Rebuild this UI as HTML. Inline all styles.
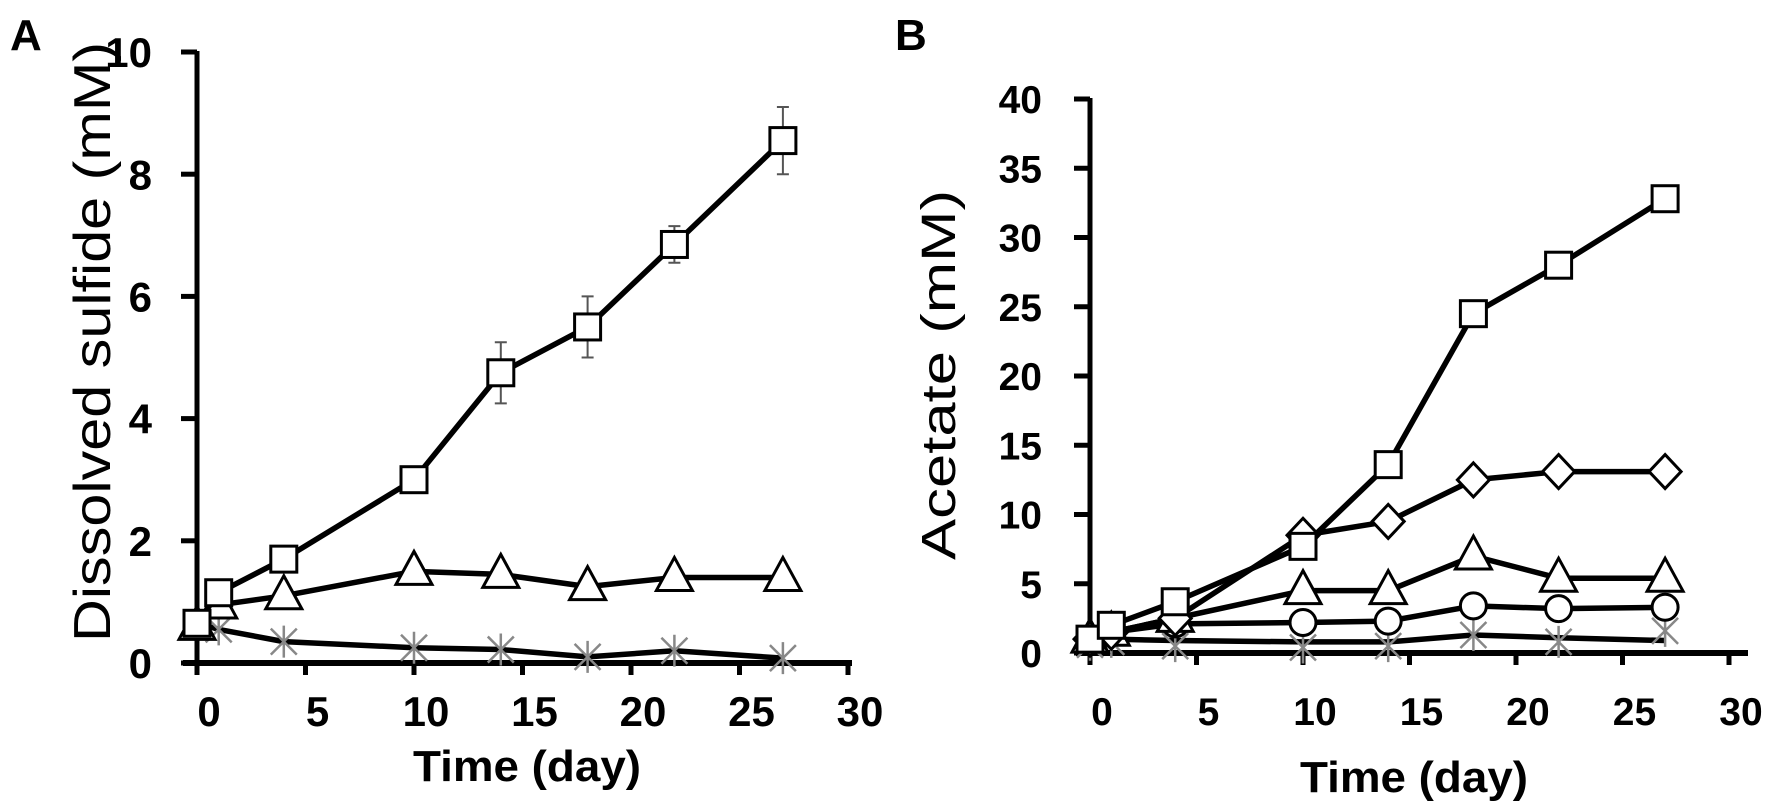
<!DOCTYPE html>
<html><head><meta charset="utf-8"><style>
html,body{margin:0;padding:0;background:#fff;}
svg{display:block;font-family:"Liberation Sans",sans-serif;}
</style></head><body>
<svg id="fig" width="1772" height="808" viewBox="0 0 1772 808" xmlns="http://www.w3.org/2000/svg">
<text x="10" y="50" font-size="44" font-weight="bold">A</text>
<text x="895" y="50" font-size="44" font-weight="bold">B</text>
<g id="pa"></g>
<g id="pb"></g>
</svg>
<script>
const days = [0, 1, 4, 10, 14, 18, 22, 27];
const xTicks = [0, 5, 10, 15, 20, 25, 30];
const aTicks = [0, 2, 4, 6, 8, 10];
const aSquare = [0.65, 1.15, 1.7, 3.0, 4.75, 5.5, 6.85, 8.55];
const aSquareErr = [0, 0, 0, 0, 0.5, 0.5, 0.3, 0.55];
const aTriangle = [0.6, 0.95, 1.1, 1.5, 1.45, 1.25, 1.4, 1.4];
const aStar = [0.65, 0.55, 0.35, 0.25, 0.22, 0.1, 0.2, 0.08];
const bTicks = [0, 5, 10, 15, 20, 25, 30, 35, 40];
const bSquare = [1.0, 2.0, 3.7, 7.7, 13.6, 24.5, 28.0, 32.8];
const bDiamond = [1.0, 1.5, 2.5, 8.5, 9.5, 12.5, 13.1, 13.1];
const bTriangle = [1.0, 1.5, 2.5, 4.5, 4.5, 7.0, 5.4, 5.4];
const bCircle = [1.0, 1.5, 2.1, 2.2, 2.3, 3.4, 3.2, 3.3];
const bStar = [0.6, 0.8, 0.5, 0.4, 0.5, 1.3, 0.8, 1.6];
const bLine = [1.0, 1.0, 0.9, 0.8, 0.8, 1.3, 1.1, 0.9];

const NS = "http://www.w3.org/2000/svg";
function mk(parent, tag, attrs){const e=document.createElementNS(NS,tag);for(const k in attrs)e.setAttribute(k,attrs[k]);parent.appendChild(e);return e;}

function marker(g, type, cx, cy){
  let e;
  if(type==='square'){e=mk(g,'rect',{x:cx-13,y:cy-13,width:26,height:26,fill:'#fff',stroke:'#000','stroke-width':3});}
  else if(type==='triangle'){e=mk(g,'polygon',{points:`${cx},${cy-20} ${cx-18},${cy+13} ${cx+18},${cy+13}`,fill:'#fff',stroke:'#000','stroke-width':3});}
  else if(type==='circle'){e=mk(g,'circle',{cx:cx,cy:cy,r:13,fill:'#fff',stroke:'#000','stroke-width':3});}
  else if(type==='diamond'){e=mk(g,'polygon',{points:`${cx},${cy-17} ${cx+16},${cy} ${cx},${cy+17} ${cx-16},${cy}`,fill:'#fff',stroke:'#000','stroke-width':3});}
  else {e=mk(g,'path',{d:`M${cx-13},${cy-13}L${cx+13},${cy+13}M${cx+13},${cy-13}L${cx-13},${cy+13}M${cx},${cy-16}L${cx},${cy+16}`,stroke:'#888','stroke-width':2.5,fill:'none'});}
  
  
}

function panel(g, o){
  const X=d=>o.x0+d*o.kx, Y=v=>o.y0-v*o.ky;
  let ax=mk(g,'line',{x1:o.x0,y1:Y(o.ymax)-1,x2:o.x0,y2:o.y0+12,stroke:'#000','stroke-width':5});
  
  
  let bx=mk(g,'line',{x1:o.x0-14,y1:o.y0,x2:o.xend,y2:o.y0,stroke:'#000','stroke-width':6});
  
  
  o.yt.forEach(v=>{
    const t=mk(g,'line',{x1:o.x0-16,y1:Y(v),x2:o.x0,y2:Y(v),stroke:'#000','stroke-width':5});
    
    
    const l=mk(g,'text',{x:o.x0-o.ylOff,y:Y(v)+o.yfs*0.36,'font-size':o.yfs,'font-weight':'bold','text-anchor':'end'});
    l.textContent=v;
    
    
  });
  xTicks.forEach(v=>{
    const t=mk(g,'line',{x1:X(v),y1:o.y0,x2:X(v),y2:o.y0+12,stroke:'#000','stroke-width':5});
    
    
    const l=mk(g,'text',{x:X(v)+12,y:o.y0+o.xlOff,'font-size':o.xfs,'font-weight':'bold','text-anchor':'middle'});
    l.textContent=v;
    
    
  });
  const xt=mk(g,'text',{x:o.xtx,y:o.xty,'font-size':44,'font-weight':'bold','text-anchor':'middle',textLength:o.xtl,lengthAdjust:'spacingAndGlyphs'});
  xt.textContent='Time (day)';
  
  
  const yt=mk(g,'text',{x:0,y:0,'font-size':o.ytfs,'text-anchor':'middle',transform:`translate(${o.ytx},${o.yty}) rotate(-90)`,textLength:o.ytl,lengthAdjust:'spacingAndGlyphs'});
  yt.textContent=o.ytitle;
  
  
  o.series.forEach(s=>{
    const pts=s.vals.map((v,i)=>`${X(days[i])},${Y(v)}`).join(' ');
    const pl=mk(g,'polyline',{points:pts,fill:'none',stroke:'#000','stroke-width':5.5,'stroke-linejoin':'round'});
    
    
    if(s.err){s.err.forEach((e,i)=>{if(!e)return;
      const eb=mk(g,'path',{d:`M${X(days[i])},${Y(s.vals[i]-e)}V${Y(s.vals[i]+e)}M${X(days[i])-6},${Y(s.vals[i]+e)}h12M${X(days[i])-6},${Y(s.vals[i]-e)}h12`,stroke:'#555','stroke-width':2,fill:'none'});
      
      });}
    if(s.type) s.vals.forEach((v,i)=>marker(g,s.type,X(days[i]),Y(v)));
    if(s.markVals) s.markVals.forEach((v,i)=>marker(g,s.type2,X(days[i]),Y(v)));
  });
}

panel(document.getElementById('pa'),{x0:197,kx:21.7,y0:663,ky:61.1,ymax:10,xend:852,yt:aTicks,
  yfs:42,ylOff:45,xfs:42,xlOff:63,
  xtx:527,xty:781,xtl:228,ytx:110,yty:342,ytl:600,ytfs:52,ytitle:'Dissolved sulfide (mM)',
  series:[{name:'asterisk',vals:aStar,type:'star'},{name:'triangle',vals:aTriangle,type:'triangle'},{name:'square',vals:aSquare,type:'square',err:aSquareErr}]});
panel(document.getElementById('pb'),{x0:1090,kx:21.3,y0:653,ky:13.85,ymax:40,xend:1748,yt:bTicks,
  yfs:39,ylOff:48,xfs:39,xlOff:72,
  xtx:1414,xty:792,xtl:228,ytx:955,yty:375,ytl:370,ytfs:48,ytitle:'Acetate (mM)',
  series:[{name:'baseline',vals:bLine,markVals:bStar,type2:'star'},{name:'circle',vals:bCircle,type:'circle'},{name:'triangle',vals:bTriangle,type:'triangle'},{name:'diamond',vals:bDiamond,type:'diamond'},{name:'square',vals:bSquare,type:'square'}]});
</script>
</body></html>
